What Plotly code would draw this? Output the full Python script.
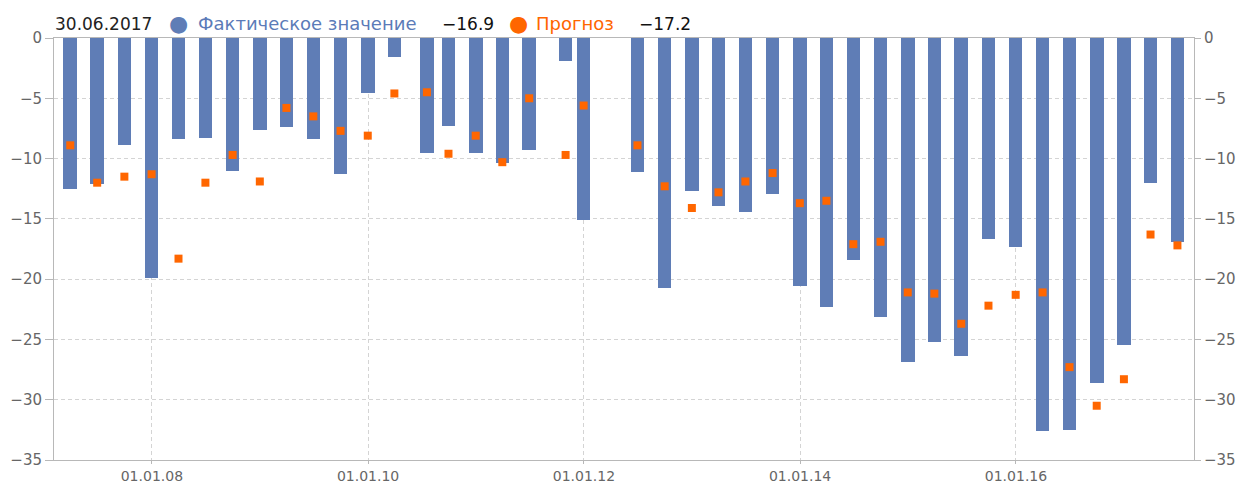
import plotly.graph_objects as go

# ---- data ----
dates = [
    "2007-03-31", "2007-06-30", "2007-09-30", "2007-12-31",
    "2008-03-31", "2008-06-30", "2008-09-30", "2008-12-31",
    "2009-03-31", "2009-06-30", "2009-09-30", "2009-12-31",
    "2010-03-31", "2010-07-19", "2010-09-30", "2010-12-31",
    "2011-03-31", "2011-06-30", "2011-10-31", "2011-12-31",
    "2012-06-30", "2012-09-30", "2012-12-31",
    "2013-03-31", "2013-06-30", "2013-09-30", "2013-12-31",
    "2014-03-31", "2014-06-30", "2014-09-30", "2014-12-31",
    "2015-03-31", "2015-06-30", "2015-09-30", "2015-12-31",
    "2016-03-31", "2016-06-30", "2016-09-30", "2016-12-31",
    "2017-03-31", "2017-06-30",
]
actual = [
    -12.5, -12.1, -8.9, -19.9,
    -8.4, -8.3, -11.0, -7.6,
    -7.4, -8.4, -11.3, -4.6,
    -1.6, -9.5, -7.3, -9.5,
    -10.4, -9.3, -1.9, -15.1,
    -11.1, -20.7, -12.7,
    -13.9, -14.4, -12.9, -20.6,
    -22.3, -18.4, -23.1, -26.9,
    -25.2, -26.4, -16.7, -17.3,
    -32.6, -32.5, -28.6, -25.5,
    -12.0, -16.9,
]
forecast = [
    -8.9, -12.0, -11.5, -11.3,
    -18.3, -12.0, -9.7, -11.9,
    -5.8, -6.5, -7.7, -8.1,
    -4.6, -4.5, -9.6, -8.1,
    -10.3, -5.0, -9.7, -5.6,
    -8.9, -12.3, -14.1,
    -12.8, -11.9, -11.2, -13.7,
    -13.5, -17.1, -16.9, -21.1,
    -21.2, -23.7, -22.2, -21.3,
    -21.1, -27.3, -30.5, -28.3,
    -16.3, -17.2,
]
series_names = ["Фактическое значение", "Прогноз"]
y_ticks = [0, -5, -10, -15, -20, -25, -30, -35]

# ---- style ----
BLUE = "#5f7db6"
BLUE_TXT = "#5b7bb8"
ORANGE = "#ff6600"
AXIS = "#b8b8b8"
GRID = "#d4d4d4"
TICKC = "#666666"
FONT = "DejaVu Sans"

W, H = 1239, 484
ML, MR, MT, MB = 54, 45, 38, 24
PW = W - ML - MR
PH = H - MT - MB

fig = go.Figure()
fig.add_trace(go.Bar(
    x=dates, y=actual, name=series_names[0],
    marker=dict(color=BLUE, line=dict(width=0)),
    width=46 * 86400000,
))
fig.add_trace(go.Scatter(
    x=dates, y=forecast, name=series_names[1], mode="markers",
    marker=dict(symbol="square", size=8, color=ORANGE),
    yaxis="y2",
))

axis_common = dict(
    range=[-35, 0], tickvals=y_ticks, ticks="outside",
    tickcolor=AXIS, showline=True, linecolor=AXIS, linewidth=1,
    zeroline=False, automargin=False,
    tickfont=dict(family=FONT, size=15, color=TICKC),
)

fig.update_layout(
    width=W, height=H,
    margin=dict(l=ML, r=MR, t=MT, b=MB),
    paper_bgcolor="white", plot_bgcolor="white",
    showlegend=False, bargap=0,
    xaxis=dict(
        type="date", range=["2007-02-04", "2017-08-25"],
        tick0="2008-01-01", dtick="M24", tickformat="%d.%m.%y",
        ticks="outside", ticklen=3, tickcolor=AXIS,
        showline=True, linecolor=AXIS, linewidth=1, mirror=True,
        showgrid=True, gridcolor=GRID, griddash="4px,3px", gridwidth=1,
        zeroline=False, automargin=False,
        tickfont=dict(family=FONT, size=14, color=TICKC),
    ),
    yaxis=dict(**axis_common, ticklen=8, showgrid=True, gridcolor=GRID,
               griddash="4px,3px", gridwidth=1),
    yaxis2=dict(**axis_common, ticklen=6, overlaying="y", side="right",
                showgrid=False),
)

def px_x(px):
    return (px - ML) / PW

def px_y(py):
    return (H - MB - py) / PH

last_date = dates[-1]
d = last_date.split("-")
date_label = f"{d[2]}.{d[1]}.{d[0]}"

def fmt(v):
    return ("\u2212" if v < 0 else "") + f"{abs(v):.1f}"

hy = px_y(24)
items = [
    (date_label, 53, "left", "#222222", 17),
    ("\u25cf", 178, "center", BLUE, 22),
    (series_names[0], 196, "left", BLUE_TXT, 18),
    (fmt(actual[-1]), 440, "left", "#111111", 17),
    ("\u25cf", 518, "center", ORANGE, 22),
    (series_names[1], 534, "left", ORANGE, 18),
    (fmt(forecast[-1]), 637, "left", "#111111", 17),
]
for text, px, anchor, color, size in items:
    fig.add_annotation(
        text=text, xref="paper", yref="paper", x=px_x(px), y=hy,
        xanchor=anchor, yanchor="middle", showarrow=False,
        font=dict(family=FONT, size=size, color=color),
    )

fig.write_html(
    "out.html",
    config={"displayModeBar": False},
    post_script="document.body.style.margin='0';document.body.style.padding='0';",
)
